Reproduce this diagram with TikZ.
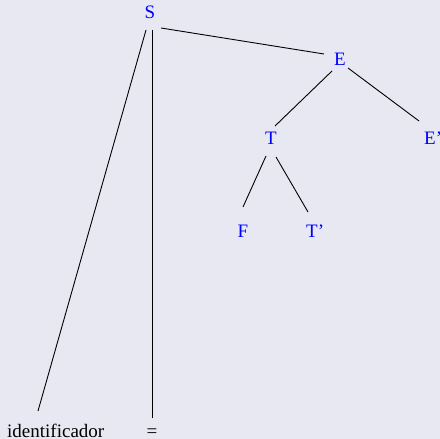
\documentclass[tikz,border=0pt]{standalone}
\usepackage{fontspec}
\setmainfont{Liberation Serif}
\definecolor{bgc}{RGB}{232,232,243}
\begin{document}
\begin{tikzpicture}[x=1bp,y=-1bp,
  lab/.style={inner sep=0pt,text=blue,font=\fontsize{19bp}{22bp}\selectfont},
  term/.style={inner sep=0pt,text=black,font=\fontsize{19bp}{22bp}\selectfont},
  edge/.style={line width=0.9bp,black}]
\fill[bgc] (0,0) rectangle (440,439);
\useasboundingbox (0,0) rectangle (440,439);
\node[lab,anchor=base] (S) at (150,19) {S};
\node[lab,anchor=base] (E) at (340,66) {E};
\node[lab,anchor=base] (T) at (271,145) {T};
\node[lab,anchor=base west] (Ep) at (424,145) {E'};
\node[lab,anchor=base] (F) at (243,237) {F};
\node[lab,anchor=base west] (Tp) at (306,237) {T'};
\node[term,anchor=base west] (id) at (7,437) {identificador};
\node[term,anchor=base] (eq) at (152,437) {=};
\draw[edge] ([shift={(-4,11)}]S.base) -- ([shift={(31,-26)}]id.base west);
\draw[edge] ([shift={(2,11)}]S.base) -- ([shift={(0,-19)}]eq.base);
\draw[edge] ([shift={(11,9)}]S.base) -- ([shift={(-16,-12)}]E.base);
\draw[edge] ([shift={(-8,5)}]E.base) -- ([shift={(4,-19)}]T.base);
\draw[edge] ([shift={(8,2)}]E.base) -- ([shift={(-5,-24)}]Ep.base west);
\draw[edge] ([shift={(-5,11)}]T.base) -- ([shift={(0,-30)}]F.base);
\draw[edge] ([shift={(5,12)}]T.base) -- ([shift={(2,-25)}]Tp.base west);
\end{tikzpicture}
\end{document}
